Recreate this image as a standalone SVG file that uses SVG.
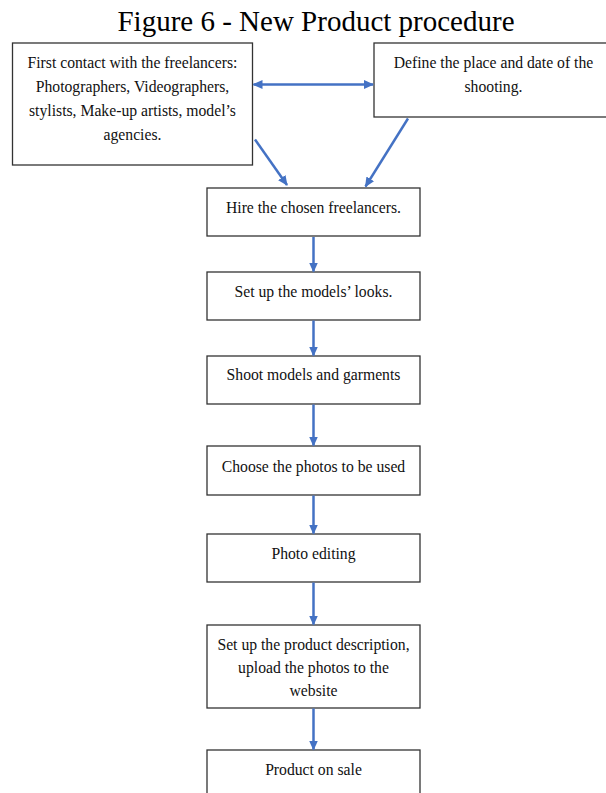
<svg xmlns="http://www.w3.org/2000/svg" width="606" height="793" viewBox="0 0 606 793">
<defs>
<style>
.box{fill:#fff;stroke:#333;stroke-width:1.3}
.t{font-family:"Liberation Serif","Times New Roman",serif;font-size:15.7px;fill:#111;text-anchor:middle}
.title{font-family:"Liberation Serif","Times New Roman",serif;font-size:29px;fill:#000;text-anchor:middle}
.arr{stroke:#4472C4;stroke-width:2.5;fill:none;marker-end:url(#ah)}
</style>
<marker id="ah" markerUnits="userSpaceOnUse" markerWidth="10" markerHeight="10" viewBox="0 0 10 10" refX="9" refY="5" orient="auto-start-reverse">
<path d="M0,0.5 L10,5 L0,9.5 z" fill="#4472C4"/>
</marker>
</defs>
<rect width="606" height="793" fill="#fff"/>
<text class="title" x="316" y="31">Figure 6 - New Product procedure</text>

<g id="n-first">
<rect class="box" x="12.5" y="43" width="240" height="122"/>
<text class="t" x="132.5" y="67.5">First contact with the freelancers:</text>
<text class="t" x="132.5" y="91.5">Photographers, Videographers,</text>
<text class="t" x="132.5" y="115.5">stylists, Make-up artists, model’s</text>
<text class="t" x="132.5" y="139.5">agencies.</text>
</g>
<g id="n-define">
<rect class="box" x="374" y="43" width="240" height="74"/>
<text class="t" x="493.5" y="67.5">Define the place and date of the</text>
<text class="t" x="493.5" y="91.5">shooting.</text>
</g>
<g id="n-hire">
<rect class="box" x="207" y="188" width="213" height="48"/>
<text class="t" x="313.5" y="213">Hire the chosen freelancers.</text>
</g>
<g id="n-looks">
<rect class="box" x="207" y="272" width="213" height="48"/>
<text class="t" x="313.5" y="297">Set up the models’ looks.</text>
</g>
<g id="n-shoot">
<rect class="box" x="207" y="356" width="213" height="48"/>
<text class="t" x="313.5" y="380">Shoot models and garments</text>
</g>
<g id="n-choose">
<rect class="box" x="207" y="446" width="213" height="49"/>
<text class="t" x="313.5" y="471.5">Choose the photos to be used</text>
</g>
<g id="n-edit">
<rect class="box" x="207" y="534" width="213" height="48"/>
<text class="t" x="313.5" y="558.5">Photo editing</text>
</g>
<g id="n-desc">
<rect class="box" x="207" y="625" width="213" height="83"/>
<text class="t" x="313.5" y="650">Set up the product description,</text>
<text class="t" x="313.5" y="673">upload the photos to the</text>
<text class="t" x="313.5" y="696">website</text>
</g>
<g id="n-sale">
<rect class="box" x="207" y="750" width="213" height="60"/>
<text class="t" x="313.5" y="775">Product on sale</text>
</g>

<g id="connectors">
<line class="arr" x1="253.5" y1="84.5" x2="373" y2="84.5" marker-start="url(#ah)"/>
<line class="arr" x1="255" y1="139.5" x2="287" y2="185"/>
<line class="arr" x1="408" y1="118.5" x2="365.5" y2="186.5"/>
<line class="arr" x1="313.5" y1="237" x2="313.5" y2="271.5"/>
<line class="arr" x1="313.5" y1="320.5" x2="313.5" y2="355.5"/>
<line class="arr" x1="313.5" y1="404.5" x2="313.5" y2="445.5"/>
<line class="arr" x1="313.5" y1="495.5" x2="313.5" y2="533.5"/>
<line class="arr" x1="313.5" y1="582.5" x2="313.5" y2="624.5"/>
<line class="arr" x1="313.5" y1="708.5" x2="313.5" y2="749.5"/>
</g>
</svg>
